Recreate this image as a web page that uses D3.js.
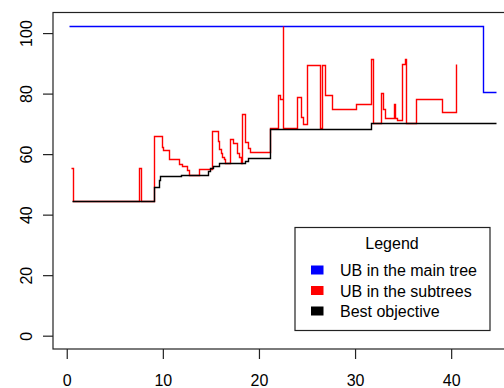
<!DOCTYPE html>
<html>
<head>
<meta charset="utf-8">
<script src="https://cdn.jsdelivr.net/npm/d3@7"></script>
<style>
  html, body { margin: 0; padding: 0; background: #fff; }
  svg { display: block; font-family: 'Liberation Sans', Arial, sans-serif; }
</style>
</head>
<body>
<svg id="chart" width="504" height="388"></svg>
<script>
// step series (x, value from that x onward)
const mainTreeX = [0.27, 43.35, 44.7];
const mainTreeY = [102.5, 80.4, 80.4];

const subtreeX = [0.45, 0.6, 7.5, 7.7, 9.1, 9.9, 10.05, 10.6, 11.7, 12.0, 12.5, 12.75,
  13.8, 15.1, 15.7, 15.85, 16.0, 16.2, 16.4, 16.5, 17.0, 17.3, 17.75, 17.95, 18.1,
  18.2, 18.55, 18.9, 19.1, 21.1, 22.0, 22.2, 22.45, 22.55, 24.0, 24.4, 24.6, 25.0,
  26.35, 26.6, 26.9, 27.6, 30.1, 31.7, 31.9, 32.7, 32.95, 33.15, 34.05, 34.15,
  34.35, 34.85, 35.2, 35.3, 36.35, 39.0, 40.5];
const subtreeY = [55.3, 44.5, 55.3, 44.5, 66.0, 62.4, 61.3, 58.3, 56.7, 56.0, 54.7, 53.1,
  55.0, 67.7, 64.4, 61.6, 60.3, 59.1, 58.3, 57.0, 64.9, 63.6, 60.5, 59.1, 57.0,
  73.2, 64.1, 61.9, 60.8, 68.5, 79.5, 78.1, 102.4, 68.7, 79.0, 72.2, 70.0, 89.6,
  68.5, 89.6, 79.5, 74.9, 76.4, 91.4, 70.2, 80.3, 75.0, 71.8, 76.4, 71.8,
  71.3, 89.7, 91.4, 70.2, 78.1, 73.8, 89.7];

const bestX = [0.58, 9.1, 9.6, 9.75, 11.9, 14.7, 14.9, 15.25, 15.8, 18.55, 18.9, 21.2, 31.7, 44.7];
const bestY = [44.5, 49.0, 51.4, 52.8, 53.1, 54.4, 55.3, 56.1, 57.0, 57.8, 58.6, 68.2, 70.2, 70.2];

const xTicks = [0, 10, 20, 30, 40];
const yTicks = [0, 20, 40, 60, 80, 100];

const legendTitle = 'Legend';
const legendLabels = ['UB in the main tree', 'UB in the subtrees', 'Best objective'];
const legendColors = ['blue', 'red', 'black'];

const svg = d3.select('#chart');

const plot = { left: 53, top: 12.5, right: 554, bottom: 349 };

const xScale = d3.scaleLinear().domain([-1.43, 50.7]).range([plot.left, plot.right]);
const yScale = d3.scaleLinear().domain([-4.4, 106.8]).range([plot.bottom, plot.top]);

// snap to pixel centres so the thin lines keep their colour
const stepLine = d3
  .line()
  .x((d) => Math.round(xScale(d[0])) + 0.5)
  .y((d) => Math.round(yScale(d[1])) + 0.5)
  .curve(d3.curveStepAfter);

const series = [
  { name: 'main', x: mainTreeX, y: mainTreeY, color: '#0000ff' },
  { name: 'subtrees', x: subtreeX, y: subtreeY, color: '#ff0000' },
  { name: 'best', x: bestX, y: bestY, color: '#000000' }
];

series.forEach((s) => {
  svg
    .append('path')
    .attr('class', `series-${s.name}`)
    .datum(s.x.map((v, i) => [v, s.y[i]]))
    .attr('fill', 'none')
    .attr('stroke', s.color)
    .attr('stroke-width', 1.4)
    .attr('d', stepLine);
});

// frame
svg
  .append('rect')
  .attr('x', plot.left)
  .attr('y', plot.top)
  .attr('width', plot.right - plot.left)
  .attr('height', plot.bottom - plot.top)
  .attr('fill', 'none')
  .attr('stroke', '#222')
  .attr('stroke-width', 1.2);

const yAxis = svg
  .append('g')
  .attr('transform', `translate(${plot.left},0)`)
  .call(d3.axisLeft(yScale).tickValues(yTicks).tickSize(10).tickFormat(d3.format('d')));

yAxis.select('.domain').remove();
yAxis.selectAll('.tick line').attr('stroke', '#222').attr('stroke-width', 1.2);
yAxis
  .selectAll('.tick text')
  .attr('transform', 'rotate(-90)')
  .attr('x', 0)
  .attr('y', -21)
  .attr('dy', null)
  .attr('text-anchor', 'middle')
  .attr('fill', '#000')
  .style('font-size', '16px');

const xAxis = svg
  .append('g')
  .attr('transform', `translate(0,${plot.bottom})`)
  .call(d3.axisBottom(xScale).tickValues(xTicks).tickSize(10).tickFormat(d3.format('d')));

xAxis.select('.domain').remove();
xAxis.selectAll('.tick line').attr('stroke', '#222').attr('stroke-width', 1.2);
xAxis
  .selectAll('.tick text')
  .attr('y', 37)
  .attr('dy', null)
  .attr('fill', '#000')
  .style('font-size', '16px');

// legend
const legend = svg.append('g').attr('class', 'legend').attr('transform', 'translate(295,227.5)');

legend
  .append('rect')
  .attr('width', 195)
  .attr('height', 103)
  .attr('fill', '#fff')
  .attr('stroke', '#222')
  .attr('stroke-width', 1.2);

legend
  .append('text')
  .attr('x', 97)
  .attr('y', 21)
  .attr('text-anchor', 'middle')
  .style('font-size', '16px')
  .text(legendTitle);

legendLabels.forEach((label, i) => {
  legend
    .append('rect')
    .attr('x', 16)
    .attr('y', 38 + i * 20.5)
    .attr('width', 12.5)
    .attr('height', 9)
    .attr('fill', legendColors[i]);

  legend
    .append('text')
    .attr('x', 45)
    .attr('y', 48.5 + i * 20.5)
    .style('font-size', '16px')
    .text(label);
});
</script>
</body>
</html>
